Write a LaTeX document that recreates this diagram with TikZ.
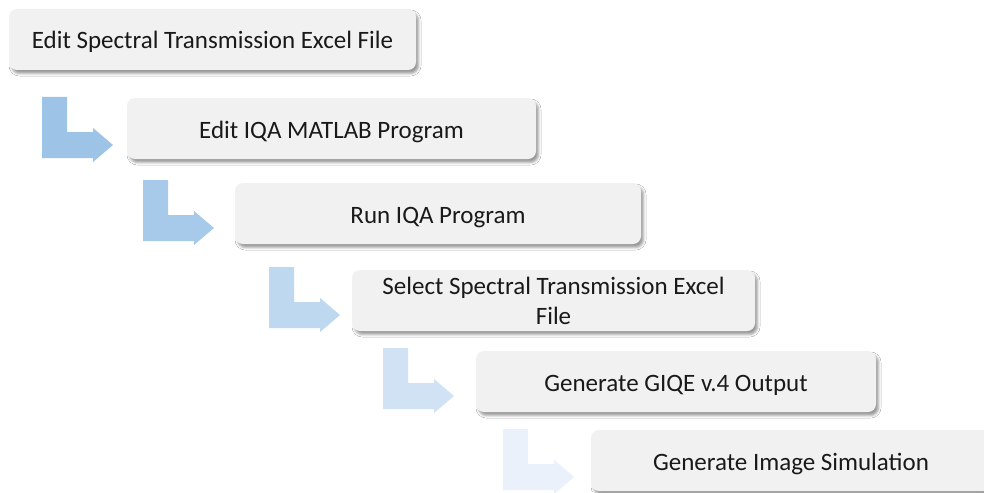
\documentclass[tikz,border=0pt]{standalone}
\usepackage{fontspec}
\setmainfont{Carlito}
\usetikzlibrary{shadows.blur}

\definecolor{boxfill}{HTML}{F1F1F1}
\definecolor{arrowA}{RGB}{157,195,230}
\definecolor{arrowB}{RGB}{168,202,234}
\definecolor{arrowC}{RGB}{190,216,240}
\definecolor{arrowD}{RGB}{208,226,244}
\definecolor{arrowE}{RGB}{234,241,250}

\tikzset{
  stepbox/.style={
    rectangle, rounded corners=8pt, fill=boxfill, draw=none,
    minimum height=61pt, inner sep=0pt, align=center,
    font=\fontsize{25}{30}\selectfont, text=black!90,
    blur shadow={shadow xshift=2.5pt, shadow yshift=-3.5pt,
                 shadow blur radius=2.5pt, shadow opacity=40}
  },
  oneline/.style={text height=22pt, text depth=3pt},
  pics/bentarrow/.style={
    code={
      \fill[#1] (0,0) -- (25,0) -- (25,35) -- (51,35) -- (51,31)
        -- (71,48) -- (51,65) -- (51,61) -- (0,61) -- cycle;
    }
  }
}

\begin{document}
\begin{tikzpicture}[x=1pt, y=-1pt]
  \fill[white] (0,0) rectangle (984,492);
  \useasboundingbox (0,0) rectangle (984,492);
  \clip (0,0) rectangle (984,492);

  % process steps
  \node[stepbox, oneline, minimum width=407pt] (s1) at (212.5,39.5) {Edit Spectral Transmission Excel File};
  \node[stepbox, oneline, minimum width=409pt] (s2) at (331.5,128.5) {Edit IQA MATLAB Program};
  \node[stepbox, oneline, minimum width=406pt] (s3) at (438,213.5) {Run IQA Program};
  \node[stepbox, minimum width=403pt] (s4) at (553.5,300.5) {Select Spectral Transmission Excel\\File};
  \node[stepbox, oneline, minimum width=400pt] (s5) at (676,381.5) {Generate GIQE v.4 Output};
  \node[stepbox, oneline, minimum width=400pt] (s6) at (791,460.5) {Generate Image Simulation};

  % bent arrows leading into each following step
  \pic at (42,97)  {bentarrow=arrowA};
  \pic at (143,180) {bentarrow=arrowB};
  \pic at (269,267) {bentarrow=arrowC};
  \pic at (383,348) {bentarrow=arrowD};
  \pic at (503,429) {bentarrow=arrowE};
\end{tikzpicture}
\end{document}
